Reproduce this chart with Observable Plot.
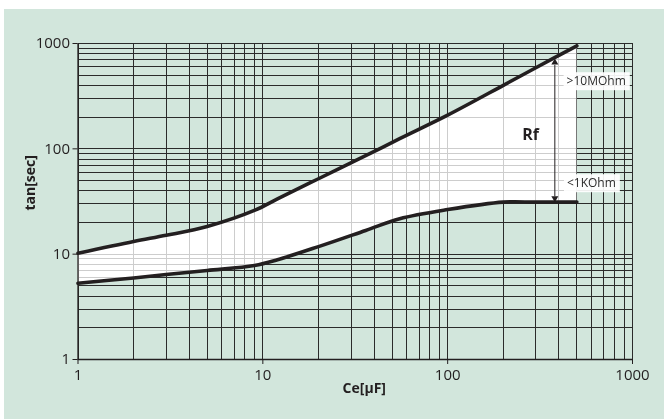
<!DOCTYPE html>
<html>
<head>
<meta charset="utf-8">
<script src="https://cdn.jsdelivr.net/npm/d3@7"></script>
<script src="https://cdn.jsdelivr.net/npm/@observablehq/plot@0.6"></script>
<style>
  html, body { margin: 0; padding: 0; background: white; }
  #chart svg { display: block; }
</style>
</head>
<body>
<div id="chart"></div>
<script>
// Capacitance values (µF) where both curves were read
const ce = [1, 2, 3, 5, 9, 12, 20, 36, 55, 100, 200, 300, 500];
// Upper curve (Rf > 10 MOhm), tan [sec]
const tanHigh = [10.2, 13.2, 15.1, 18.3, 26, 33.5, 52, 86, 125, 209, 401, 589, 950];
// Lower curve (Rf < 1 KOhm), tan [sec]
const tanLow = [5.3, 5.95, 6.4, 7.0, 7.8, 8.85, 11.8, 16.8, 21.7, 26.5, 31.2, 31.2, 31.2];

// Log grid values and labelled ticks
const gridValues = [1, 2, 3, 4, 5, 6, 7, 8, 9,
  10, 20, 30, 40, 50, 60, 70, 80, 90,
  100, 200, 300, 400, 500, 600, 700, 800, 900, 1000];
const tickLabels = [1, 10, 100, 1000];

// Annotations
const arrowX = [380];
const arrowTop = [660];
const arrowBottom = [34];
const rfLabel = [{x: 281, y: 137, text: "Rf"}];
const ohmLabels = [
  {x: 440, y: 437, text: ">10MOhm"},
  {x: 442, y: 47, text: "<1KOhm"}
];

const rows = ce.map((c, i) => ({ce: c, high: tanHigh[i], low: tanLow[i]}));
const ink = "#231f20";

const chart = Plot.plot({
  width: 664,
  height: 419,
  marginLeft: 77.5,
  marginRight: 32,
  marginTop: 43,
  marginBottom: 60,
  style: {fontFamily: "'Open Sans', sans-serif", color: ink, background: "transparent", overflow: "visible"},
  x: {type: "log", domain: [1, 1000]},
  y: {type: "log", domain: [1, 1000]},
  marks: [
    Plot.ruleX(gridValues, {stroke: "#2b2b2b", strokeWidth: 1, shapeRendering: "crispEdges"}),
    Plot.ruleY(gridValues, {stroke: "#2b2b2b", strokeWidth: 1, shapeRendering: "crispEdges"}),
    Plot.areaY(rows, {x: "ce", y1: "low", y2: "high", fill: "white", curve: "catmull-rom"}),
    Plot.ruleX(gridValues, {stroke: "#cdcdcd", strokeWidth: 1, shapeRendering: "crispEdges", mixBlendMode: "darken"}),
    Plot.ruleY(gridValues, {stroke: "#cdcdcd", strokeWidth: 1, shapeRendering: "crispEdges", mixBlendMode: "darken"}),
    Plot.line(rows, {x: "ce", y: "high", stroke: ink, strokeWidth: 3.6, curve: "catmull-rom"}),
    Plot.line(rows, {x: "ce", y: "low", stroke: ink, strokeWidth: 3.6, curve: "catmull-rom"}),
    Plot.ruleX([1], {stroke: ink, strokeWidth: 1.3}),
    Plot.ruleY([1], {stroke: ink, strokeWidth: 1.3}),
    Plot.link(arrowX, {x1: d => d, x2: d => d, y1: (d, i) => arrowTop[i] * 0.95, y2: (d, i) => arrowBottom[i] * 1.04, stroke: ink, strokeWidth: 1}),
    Plot.dot(arrowX, {x: d => d, y: (d, i) => arrowTop[i], symbol: "triangle", r: 2.6, fill: ink, stroke: "none"}),
    Plot.dot(arrowX, {x: d => d, y: (d, i) => arrowBottom[i], symbol: "triangle", r: 2.6, fill: ink, stroke: "none", rotate: 180}),
    Plot.text(rfLabel, {x: "x", y: "y", text: "text", fontSize: 16, fontWeight: "bold", fill: ink}),
    Plot.text(ohmLabels, {x: "x", y: "y", text: "text", fontSize: 12, textAnchor: "start", fill: "#2b2b2b"}),
    Plot.axisX({ticks: tickLabels, tickFormat: d => String(d), tickSize: 5, tickPadding: 5, fontSize: 15, label: null, stroke: ink}),
    Plot.axisY({ticks: tickLabels, tickFormat: d => String(d), tickSize: 5, tickPadding: 3, fontSize: 15, label: null, stroke: ink}),
    Plot.text(["Ce[µF]"], {frameAnchor: "bottom", dy: 33, dx: 9, fontSize: 14, fontWeight: "bold", fill: ink}),
    Plot.text(["tan[sec]"], {frameAnchor: "left", dx: -47, dy: 9, rotate: -90, fontSize: 14, fontWeight: "bold", fill: ink})
  ]
});

chart.style.background = "white linear-gradient(#d2e6dc, #d2e6dc) no-repeat 4px 9px / 660px 410px";
document.getElementById("chart").appendChild(chart);

// White boxes behind the resistance labels
const ohmTexts = new Set(ohmLabels.map(d => d.text));
Array.from(chart.querySelectorAll("text"))
  .filter(t => ohmTexts.has(t.textContent))
  .forEach(t => {
    const b = t.getBBox();
    const r = document.createElementNS("http://www.w3.org/2000/svg", "rect");
    r.setAttribute("x", b.x - 3);
    r.setAttribute("y", b.y);
    r.setAttribute("width", b.width + 7);
    r.setAttribute("height", b.height + 1);
    r.setAttribute("fill", "white");
    r.setAttribute("fill-opacity", "0.92");
    const tr = t.getAttribute("transform");
    if (tr) r.setAttribute("transform", tr);
    t.parentNode.insertBefore(r, t);
  });
</script>
</body>
</html>
